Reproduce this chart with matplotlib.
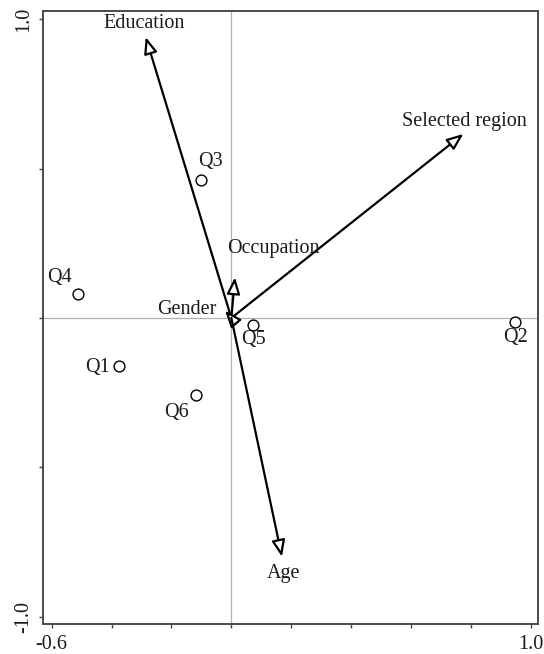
import matplotlib
matplotlib.use("Agg")
import matplotlib.pyplot as plt
from matplotlib.ticker import FixedLocator, FixedFormatter

# environmental variables (arrows)
var_names = ["Education", "Selected region", "Occupation", "Gender", "Age"]
var_x = [-0.286, 0.775, 0.012, -0.021, 0.169]
var_y = [0.940, 0.616, 0.136, 0.025, -0.799]

# samples (open circles)
sample_names = ["Q1", "Q2", "Q3", "Q4", "Q5", "Q6"]
sample_x = [-0.374, 0.948, -0.102, -0.513, 0.073, -0.119]
sample_y = [-0.162, -0.015, 0.463, 0.081, -0.022, -0.258]

# axis ticks
x_ticks = [-0.6, -0.4, -0.2, 0.0, 0.2, 0.4, 0.6, 0.8, 1.0]
x_tick_labels = ["-0.6", "", "", "", "", "", "", "", "1.0"]
y_ticks = [-1.0, -0.5, 0.0, 0.5, 1.0]
y_tick_labels = ["-1.0", "", "", "", "1.0"]

# label placement (offset in points, alignment)
var_label_pos = {
    "Education": ((-1, 10), "center"),
    "Selected region": ((1, 9), "center"),
    "Occupation": ((28, 20.5), "center"),
    "Gender": ((-6, 0.5), "right"),
    "Age": ((1, -12), "center"),
}
sample_label_pos = {
    "Q1": (-16, -1),
    "Q2": (0, -10.5),
    "Q3": (7, 13),
    "Q4": (-13, 11.5),
    "Q5": (0, -11),
    "Q6": (-13.5, -12.5),
}

plt.rcParams["font.family"] = ["Liberation Serif", "DejaVu Serif"]
plt.rcParams["axes.unicode_minus"] = False
FS = 14.5
TXT = "#1a1a1a"

fig = plt.figure(figsize=(5.44, 6.54), dpi=100)
ax = fig.add_axes([0.0785, 0.0454, 0.911, 0.9382])
ax.set_xlim(-0.630, 1.025)
ax.set_ylim(-1.025, 1.028)

# reference lines through origin
ax.axhline(0, color="#b0b0b0", lw=0.9, zorder=0)
ax.axvline(0, color="#b0b0b0", lw=0.9, zorder=0)

# arrows
for name, x, y in zip(var_names, var_x, var_y):
    ax.annotate("", xy=(x, y), xytext=(0, 0),
                arrowprops=dict(arrowstyle="-|>,head_length=1.0,head_width=0.4",
                                mutation_scale=10, fc="white", ec="black",
                                lw=1.6, shrinkA=0, shrinkB=0), zorder=3)
    off, ha = var_label_pos[name]
    ax.annotate(name, xy=(x, y), xytext=off, textcoords="offset points",
                ha=ha, va="center", fontsize=FS, color=TXT)

# samples
ax.plot(sample_x, sample_y, "o", ms=7.8, mfc="white", mec="black", mew=1.0,
        linestyle="none", zorder=4)
for name, x, y in zip(sample_names, sample_x, sample_y):
    ax.annotate(name, xy=(x, y), xytext=sample_label_pos[name],
                textcoords="offset points", ha="center", va="center",
                fontsize=FS, color=TXT)

ax.xaxis.set_major_locator(FixedLocator(x_ticks))
ax.xaxis.set_major_formatter(FixedFormatter(x_tick_labels))
ax.yaxis.set_major_locator(FixedLocator(y_ticks))
ax.yaxis.set_major_formatter(FixedFormatter(y_tick_labels))
ax.tick_params(axis="both", direction="out", length=3, width=1,
               color="#444444", labelsize=FS, labelcolor=TXT)
ax.tick_params(axis="x", pad=5)
ax.tick_params(axis="y", pad=4)
for lab in ax.get_xticklabels():
    lab.set_x(lab.get_position()[0])
for lab in ax.get_yticklabels():
    lab.set_rotation(90)
    lab.set_va("center")

for side in ["top", "right", "bottom", "left"]:
    ax.spines[side].set_color("#4a4a4a")
    ax.spines[side].set_linewidth(1.4)

fig.savefig("out.png", dpi=100)
